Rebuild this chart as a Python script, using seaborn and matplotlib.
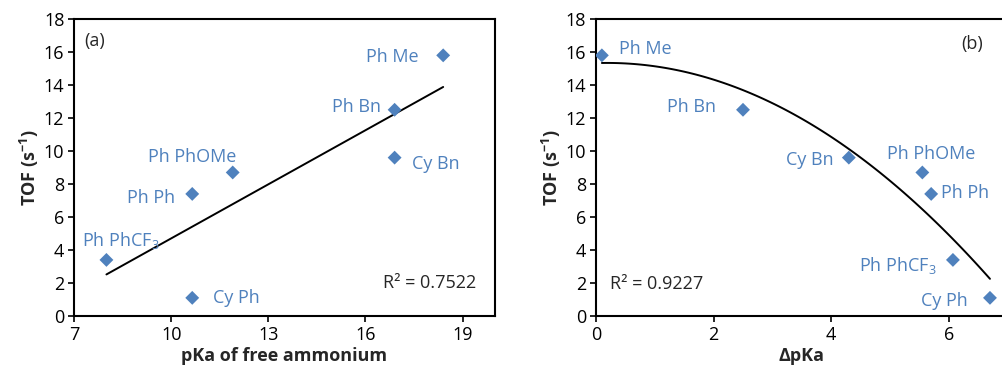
import pandas as pd
import seaborn as sns
import matplotlib.pyplot as plt
import numpy as np

# Data
names = ['Ph Me', 'Ph Bn', 'Cy Bn', 'Ph PhOMe', 'Ph Ph', 'Ph PhCF$_3$', 'Cy Ph']
pka = [18.4, 16.9, 16.9, 11.9, 10.65, 8.0, 10.65]
dpka = [0.1, 2.5, 4.3, 5.55, 5.7, 6.07, 6.7]
tof = [15.8, 12.5, 9.6, 8.7, 7.4, 3.4, 1.1]

df = pd.DataFrame({'name': names, 'pka': pka, 'dpka': dpka, 'tof': tof})

# label offsets (pixels) and alignment for each point
offs_a = [(-25, -2, 'right'), (-14, 3, 'right'), (17, -6, 'left'), (-41, 15, 'center'),
          (-17, -4, 'right'), (-24, 19, 'left'), (21, 0, 'left')]
offs_b = [(17, 6, 'left'), (-27, 3, 'right'), (-15, -2, 'right'), (9, 18, 'center'),
          (10, 1, 'left'), (-16, -6, 'right'), (-22, -3, 'right')]

sns.set_theme(style='ticks')
plt.rcParams['font.family'] = ['Open Sans', 'DejaVu Sans']
plt.rcParams['mathtext.fontset'] = 'custom'
plt.rcParams['mathtext.rm'] = 'Open Sans'
plt.rcParams['mathtext.bf'] = 'Open Sans:bold'

blue = '#4F81BD'
fs = 13

fig = plt.figure(figsize=(10.02, 3.81), dpi=100)
ax1 = fig.add_axes([0.0739, 0.1706, 0.4201, 0.7794])
ax2 = fig.add_axes([0.5948, 0.1706, 0.4108, 0.7794])


def draw(ax, xcol, order, offs):
    sns.regplot(data=df, x=xcol, y='tof', order=order, ci=None, scatter=False,
                color='black', line_kws={'lw': 1.4}, ax=ax)
    sns.scatterplot(data=df, x=xcol, y='tof', marker='D', s=50, color=blue,
                    edgecolor='none', ax=ax, zorder=3)
    for (_, r), (dx, dy, ha) in zip(df.iterrows(), offs):
        ax.annotate(r['name'], (r[xcol], r['tof']), xytext=(dx * 0.72, dy * 0.72),
                    textcoords='offset points', ha=ha, va='center',
                    color=blue, fontsize=fs)
    ax.set_ylim(0, 18)
    ax.set_yticks(range(0, 19, 2))
    ax.set_ylabel('TOF (s$^{\\mathbf{-1}}$)', fontsize=fs, fontweight='bold', labelpad=2)
    for s in ax.spines.values():
        s.set_visible(True)
        s.set_linewidth(1.5)
        s.set_color('black')
    ax.tick_params(labelsize=fs, length=4, width=1.2, pad=3, colors='black')


draw(ax1, 'pka', 1, offs_a)
ax1.set_xlim(7, 20)
ax1.set_xticks([7, 10, 13, 16, 19])
ax1.set_xlabel('pKa of free ammonium', fontsize=fs, fontweight='bold', labelpad=2)
ax1.text(0.025, 0.91, '(a)', transform=ax1.transAxes, fontsize=fs)
ax1.text(0.955, 0.095, 'R² = 0.7522', transform=ax1.transAxes, fontsize=fs, ha='right')

draw(ax2, 'dpka', 2, offs_b)
ax2.set_xlim(0, 7)
ax2.set_xticks([0, 2, 4, 6])
ax2.set_xlabel('ΔpKa', fontsize=fs, fontweight='bold', labelpad=2)
ax2.text(0.94, 0.90, '(b)', transform=ax2.transAxes, fontsize=fs, ha='right')
ax2.text(0.035, 0.09, 'R² = 0.9227', transform=ax2.transAxes, fontsize=fs)

fig.savefig('out.png', dpi=100)
